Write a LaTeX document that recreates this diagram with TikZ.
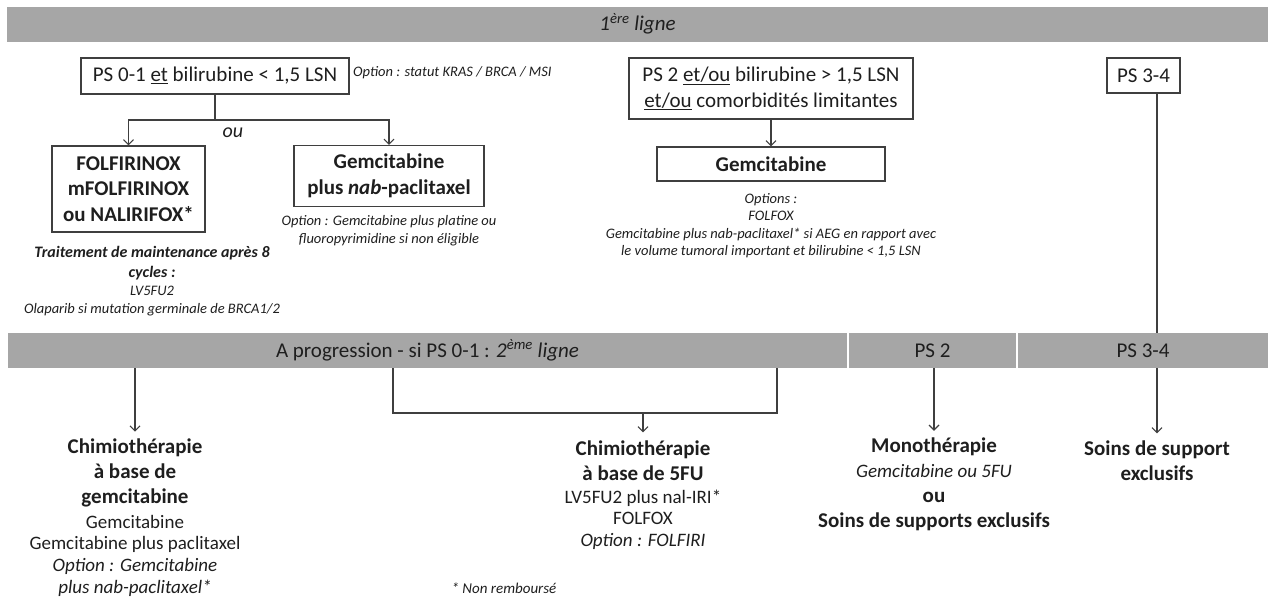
\documentclass[tikz,border=0pt]{standalone}
\usepackage{fontspec}
\setmainfont{Carlito}
\usepackage[dvipsnames]{xcolor}
\usetikzlibrary{arrows.meta}
\definecolor{bargray}{HTML}{A6A6A6}
\definecolor{edgegray}{HTML}{3F3F3F}
\definecolor{ink}{HTML}{1E1E1E}

\begin{document}
\begin{tikzpicture}[x=1pt,y=-1pt,
    bar/.style={fill=bargray, text=ink, inner sep=0pt, minimum height=35pt, font=\fontsize{21}{25}\selectfont},
    box/.style={draw=edgegray, line width=1.2pt, text=ink, align=center, inner xsep=10pt, inner ysep=4pt, font=\fontsize{21}{25.5}\selectfont},
    boldbox/.style={box, font=\fontsize{21}{25.5}\selectfont\bfseries},
    note/.style={text=ink, align=center, inner sep=0pt, font=\fontsize{14.5}{17.5}\selectfont\itshape},
    head/.style={text=ink, align=center, inner sep=0pt, font=\fontsize{21}{25}\selectfont\bfseries},
    body/.style={text=ink, align=center, inner sep=0pt, font=\fontsize{19}{21.7}\selectfont},
    link/.style={draw=edgegray, line width=1.1pt},
    arr/.style={link, -{Straight Barb[length=5pt,width=10pt]}}]
  \useasboundingbox (0,0) rectangle (1268,600);
  % bands
  \node[bar, minimum width=1261pt] (line1) at (637.5,24) {\itshape 1\textsuperscript{ère} ligne};
  \node[bar, minimum width=839pt] (prog) at (427.5,350.5) {A progression - si PS 0-1 : \textit{2\textsuperscript{ème} ligne}};
  \node[bar, minimum width=167pt] (bandps2) at (932.5,350.5) {PS 2};
  \node[bar, minimum width=250pt] (bandps34) at (1143,350.5) {PS 3-4};
  % first line
  \node[box, minimum width=268pt, minimum height=36pt] (ps01) at (215,76) {PS 0-1 \underline{et} bilirubine < 1,5 LSN};
  \node[note, anchor=west] (optbio) at (353,73) {Option : statut KRAS / BRCA / MSI};
  \node[box, minimum width=284pt, minimum height=61pt] (ps2) at (771,88.5) {PS 2 \underline{et/ou} bilirubine > 1,5 LSN\\\underline{et/ou} comorbidités limitantes};
  \node[box, minimum width=73pt, minimum height=35pt, inner xsep=8pt] (ps34) at (1143.5,75.5) {PS 3-4};
  \node[boldbox, minimum width=153pt, minimum height=86pt] (folf) at (128.5,189) {FOLFIRINOX\\mFOLFIRINOX\\ou NALIRIFOX*};
  \node[boldbox, minimum width=190pt, minimum height=61pt] (gemnab) at (389,176) {Gemcitabine\\plus \textit{nab}-paclitaxel};
  \node[boldbox, minimum width=228pt, minimum height=34pt] (gem) at (771,164) {Gemcitabine};
  \coordinate (split) at (215,120);
  \draw[link] (ps01) -- (split);
  \draw[arr] (split) -| (folf);
  \draw[arr] (split) -| (gemnab);
  \node[text=ink, inner sep=0pt, font=\fontsize{20}{24}\selectfont\itshape] (ou) at (233,133) {ou};
  \draw[arr] (ps2) -- (gem);
  \node[note] (gemnabopt) at (389,230.5) {Option : Gemcitabine plus platine ou\\fluoropyrimidine si non éligible};
  \node[text=ink, align=center, inner sep=0pt, font=\fontsize{16}{19.5}\selectfont\bfseries\itshape] (maint) at (152,263) {Traitement de maintenance après 8\\cycles :};
  \node[note] (maintopt) at (152,301) {LV5FU2\\Olaparib si mutation germinale de BRCA1/2};
  \node[note] (gemopt) at (771,225.5) {Options :\\FOLFOX\\Gemcitabine plus nab-paclitaxel* si AEG en rapport avec\\le volume tumoral important et bilirubine < 1,5 LSN};
  \coordinate (drop34) at (1157,333);
  \draw[link] (ps34.south -| drop34) -- (drop34);
  % second line
  \node[head] (chimgem) at (135,473) {Chimiothérapie\\à base de\\gemcitabine};
  \node[body] (gemlist) at (135,555.5) {Gemcitabine\\Gemcitabine plus paclitaxel\\\textit{Option : Gemcitabine}\\\textit{plus nab-paclitaxel*}};
  \node[head] (chim5fu) at (643,460.5) {Chimiothérapie\\à base de 5FU};
  \node[body] (fulist) at (643,519.5) {LV5FU2 plus nal-IRI*\\FOLFOX\\\textit{Option : FOLFIRI}};
  \node[head] (mono) at (934,484.5) {Monothérapie\\{\normalfont\fontsize{19}{22}\selectfont\itshape Gemcitabine ou 5FU}\\ou\\Soins de supports exclusifs};
  \node[head] (soins) at (1157,460.5) {Soins de support\\exclusifs};
  \node[note, font=\fontsize{15}{18}\selectfont\itshape] (footnote) at (504,588) {* Non remboursé};
  \coordinate (bl) at (393,413);
  \coordinate (br) at (777,413);
  \draw[arr, shorten >=7pt] (prog.south -| chimgem) -- (chimgem.north);
  \draw[link] (prog.south -| bl) -- (bl) -- (br) -- (prog.south -| br);
  \draw[arr, shorten >=8pt] (bl -| chim5fu) -- (chim5fu.north);
  \draw[arr, shorten >=7pt] (bandps2.south -| mono) -- (mono.north);
  \draw[arr, shorten >=7pt] (bandps34.south -| soins) -- (soins.north);
\end{tikzpicture}
\end{document}
